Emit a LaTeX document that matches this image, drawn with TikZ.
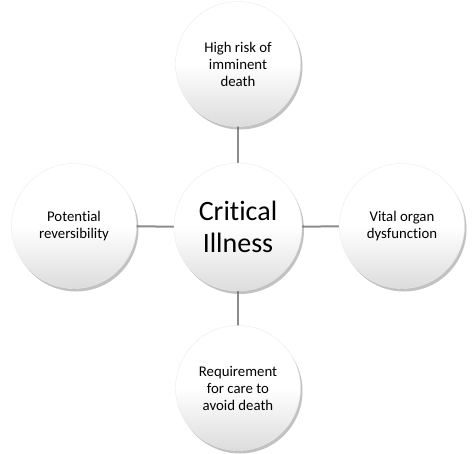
\documentclass[tikz,border=0pt]{standalone}
\usepackage{fontspec}
\setmainfont[Ligatures={NoCommon}]{Carlito}
\usetikzlibrary{shadows,shadings}
\definecolor{linegray}{HTML}{8C8C8C}
\definecolor{circbot}{HTML}{DCDCDC}
\begin{document}
\begin{tikzpicture}[x=1pt,y=-1pt,
  ball/.style={circle,minimum size=125pt,inner sep=0pt,align=center,
    top color=white,bottom color=circbot,middle color=white,
    draw=black!8,line width=0.4pt,
    drop shadow={shadow xshift=2pt,shadow yshift=-3pt,opacity=0.4,fill=black!60},
    font=\fontsize{14.8}{17}\selectfont,text=black},
  link/.style={draw=linegray,line width=2pt}]
\useasboundingbox (0,0) rectangle (474,453);
\coordinate (cc) at (238,227);
\draw[link] (cc) -- (238,64);
\draw[link] (cc) -- (238,388);
\draw[link] (cc) -- (74,226);
\draw[link] (cc) -- (402,226);
\node[ball] (top) at (238,64) {High risk of\\imminent\\death};
\node[ball] (left) at (74,226) {Potential\\reversibility};
\node[ball] (right) at (402,226) {Vital organ\\dysfunction};
\node[ball] (bot) at (238,388) {Requirement\\for care to\\avoid death};
\node[ball,minimum size=128pt,font=\fontsize{28}{32}\selectfont] (ctr) at (cc) {Critical\\Illness};
\end{tikzpicture}
\end{document}
